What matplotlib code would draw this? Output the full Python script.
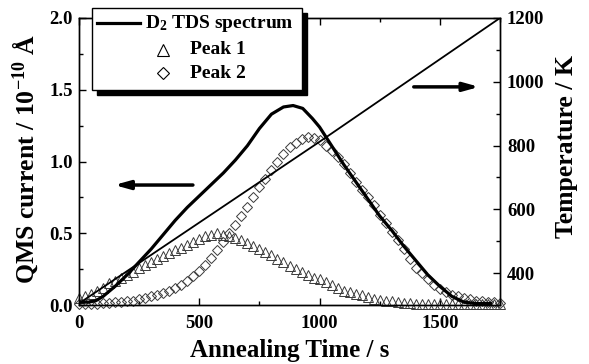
import matplotlib
matplotlib.use('Agg')
import matplotlib.pyplot as plt
from matplotlib.lines import Line2D
from matplotlib.patches import Rectangle
from matplotlib.ticker import MultipleLocator

plt.rcParams['font.family'] = 'Liberation Serif'
plt.rcParams['font.weight'] = 'bold'
plt.rcParams['mathtext.fontset'] = 'custom'
plt.rcParams['mathtext.rm'] = 'Liberation Serif:bold'
plt.rcParams['mathtext.bf'] = 'Liberation Serif:bold'
plt.rcParams['mathtext.it'] = 'Liberation Serif:bold:italic'
plt.rcParams['mathtext.default'] = 'rm'

# ---------------- data ----------------
spec_time = [0, 40, 70, 100, 150, 200, 250, 300, 350, 400, 450, 500, 550, 600, 650,
             700, 750, 800, 850, 890, 930, 970, 1000, 1050, 1100, 1150, 1200, 1250,
             1300, 1350, 1400, 1450, 1500, 1550, 1600, 1650, 1710]
spec_val = [0.02, 0.02, 0.03, 0.06, 0.13, 0.21, 0.30, 0.39, 0.49, 0.59, 0.68, 0.76,
            0.84, 0.92, 1.01, 1.11, 1.23, 1.33, 1.38, 1.39, 1.37, 1.30, 1.24, 1.11,
            0.98, 0.86, 0.74, 0.62, 0.52, 0.41, 0.31, 0.21, 0.13, 0.06, 0.02, 0.01, 0.01]

marker_time = [0, 25, 50, 75, 100, 125, 150, 175, 200, 225, 250, 275, 300, 325, 350,
               375, 400, 425, 450, 475, 500, 525, 550, 575, 600, 625, 650, 675, 700,
               725, 750, 775, 800, 825, 850, 875, 900, 925, 950, 975, 1000, 1025,
               1050, 1075, 1100, 1125, 1150, 1175, 1200, 1225, 1250, 1275, 1300,
               1325, 1350, 1375, 1400, 1425, 1450, 1475, 1500, 1525, 1550, 1575,
               1600, 1625, 1650, 1675, 1700, 1725, 1750]
peak1 = [0.05, 0.06, 0.08, 0.10, 0.12, 0.15, 0.17, 0.19, 0.21, 0.23, 0.26, 0.28,
         0.30, 0.32, 0.34, 0.36, 0.38, 0.40, 0.42, 0.44, 0.46, 0.48, 0.49, 0.50,
         0.49, 0.48, 0.47, 0.45, 0.43, 0.41, 0.39, 0.37, 0.35, 0.32, 0.30, 0.27,
         0.25, 0.23, 0.21, 0.19, 0.18, 0.16, 0.14, 0.12, 0.10, 0.09, 0.08, 0.07,
         0.055, 0.045, 0.035, 0.03, 0.025, 0.02, 0.015, 0.012, 0.01, 0.01, 0.01,
         0.01, 0.01, 0.01, 0.01, 0.01, 0.01, 0.01, 0.01, 0.01, 0.01, 0.01, 0.01]
peak2 = [0.01, 0.01, 0.01, 0.01, 0.012, 0.015, 0.02, 0.022, 0.025, 0.03, 0.04, 0.05,
         0.06, 0.07, 0.085, 0.10, 0.12, 0.14, 0.17, 0.20, 0.24, 0.28, 0.33, 0.38,
         0.44, 0.50, 0.56, 0.62, 0.68, 0.75, 0.82, 0.88, 0.94, 1.00, 1.05, 1.10,
         1.13, 1.155, 1.17, 1.165, 1.15, 1.11, 1.07, 1.03, 0.98, 0.92, 0.86, 0.80,
         0.75, 0.70, 0.63, 0.57, 0.51, 0.45, 0.39, 0.32, 0.26, 0.22, 0.18, 0.14,
         0.11, 0.09, 0.07, 0.06, 0.05, 0.04, 0.03, 0.025, 0.02, 0.02, 0.015]

temp_time = [0, 1000, 1750]
temp_val = [305, 812, 1200]

# ---------------- figure ----------------
W, H = 589, 364
fig = plt.figure(figsize=(W / 100, H / 100), dpi=100)
L, R, T, B = 79, 500, 18, 305
ax = fig.add_axes([L / W, 1 - B / H, (R - L) / W, (B - T) / H])
ax2 = ax.twinx()

mcol = '#3a3a3a'
ax.plot(marker_time, peak1, linestyle='none', marker='^', markersize=7,
        markerfacecolor='none', markeredgecolor=mcol, markeredgewidth=0.7, clip_on=False, zorder=3)
ax.plot(marker_time, peak2, linestyle='none', marker='D', markersize=5.4,
        markerfacecolor='none', markeredgecolor=mcol, markeredgewidth=0.7, clip_on=False, zorder=3)
ax.plot(spec_time, spec_val, color='black', linewidth=2.3, zorder=4)
ax2.plot(temp_time, temp_val, color='black', linewidth=1.3)

ax.set_xlim(0, 1750)
ax.set_ylim(0, 2.0)
ax2.set_ylim(300, 1200)

ax.xaxis.set_major_locator(MultipleLocator(500))
ax.xaxis.set_minor_locator(MultipleLocator(250))
ax.yaxis.set_major_locator(MultipleLocator(0.5))
ax.yaxis.set_minor_locator(MultipleLocator(0.25))
ax2.set_yticks([400, 600, 800, 1000, 1200])
ax2.yaxis.set_minor_locator(MultipleLocator(100))

ax.tick_params(axis='both', which='both', direction='in', top=True, labelsize=13.5, width=1)
ax.tick_params(axis='y', which='both', right=False, pad=4.5)
ax.tick_params(axis='x', which='both', pad=7)
ax.tick_params(which='major', length=5)
ax.tick_params(which='minor', length=3)
ax2.tick_params(axis='y', which='both', direction='in', labelsize=13.5, width=1, pad=5)
ax2.tick_params(which='major', length=5)
ax2.tick_params(which='minor', length=3)
ax.yaxis.set_major_formatter(plt.FuncFormatter(lambda v, p: f'{v:.1f}'))

for a in (ax, ax2):
    for s in a.spines.values():
        s.set_linewidth(1.0)

ax.set_xlabel('Annealing Time / s', fontsize=18, fontweight='bold')
ax.xaxis.set_label_coords(0.5, (B - 351) / (B - T))
ax.xaxis.label.set_va('center')
ax.set_ylabel(r'QMS current / 10$^{-10}$ Å', fontsize=18.5, fontweight='bold')
ax.yaxis.set_label_coords((25 - L) / (R - L), (B - 159) / (B - T))
ax.yaxis.label.set_va('center')
ax2.set_ylabel('Temperature / K', fontsize=18.5, fontweight='bold')
ax2.yaxis.set_label_coords((567 - L) / (R - L), (B - 147) / (B - T))
ax2.yaxis.label.set_va('center')

# arrows
ax.annotate('', xy=(135, 0.836), xytext=(485, 0.836),
            arrowprops=dict(arrowstyle='-|>,head_length=0.9,head_width=0.25', lw=2.5, color='black'))
ax.annotate('', xy=(1675, 1.52), xytext=(1380, 1.52),
            arrowprops=dict(arrowstyle='-|>,head_length=0.9,head_width=0.25', lw=2.5, color='black'))

# legend (manual, figure pixel coords)
def fx(x):
    return x / W

def fy(y):
    return 1 - y / H

fig.add_artist(Rectangle((fx(97), fy(95)), fx(307) - fx(97), fy(13) - fy(95),
                         transform=fig.transFigure, facecolor='black', edgecolor='black', zorder=10))
fig.add_artist(Rectangle((fx(92), fy(90)), fx(302) - fx(92), fy(8) - fy(90),
                         transform=fig.transFigure, facecolor='white', edgecolor='black',
                         linewidth=1.0, zorder=11))
fig.add_artist(Line2D([fx(97), fx(140)], [fy(23), fy(23)], transform=fig.transFigure,
                      color='black', linewidth=2.3, zorder=12))
fig.add_artist(Line2D([fx(163)], [fy(50)], transform=fig.transFigure, marker='^', markersize=8,
                      markerfacecolor='none', markeredgecolor='black', markeredgewidth=0.8, zorder=12))
fig.add_artist(Line2D([fx(163)], [fy(73)], transform=fig.transFigure, marker='D', markersize=6.5,
                      markerfacecolor='none', markeredgecolor='black', markeredgewidth=0.8, zorder=12))
fig.text(fx(145), fy(23), r'D$_2$ TDS spectrum', fontsize=14, fontweight='bold',
         va='center', ha='left', zorder=13)
fig.text(fx(190), fy(50), 'Peak 1', fontsize=14, fontweight='bold', va='center', ha='left', zorder=13)
fig.text(fx(190), fy(73), 'Peak 2', fontsize=14, fontweight='bold', va='center', ha='left', zorder=13)

fig.savefig('out.png', dpi=100)
